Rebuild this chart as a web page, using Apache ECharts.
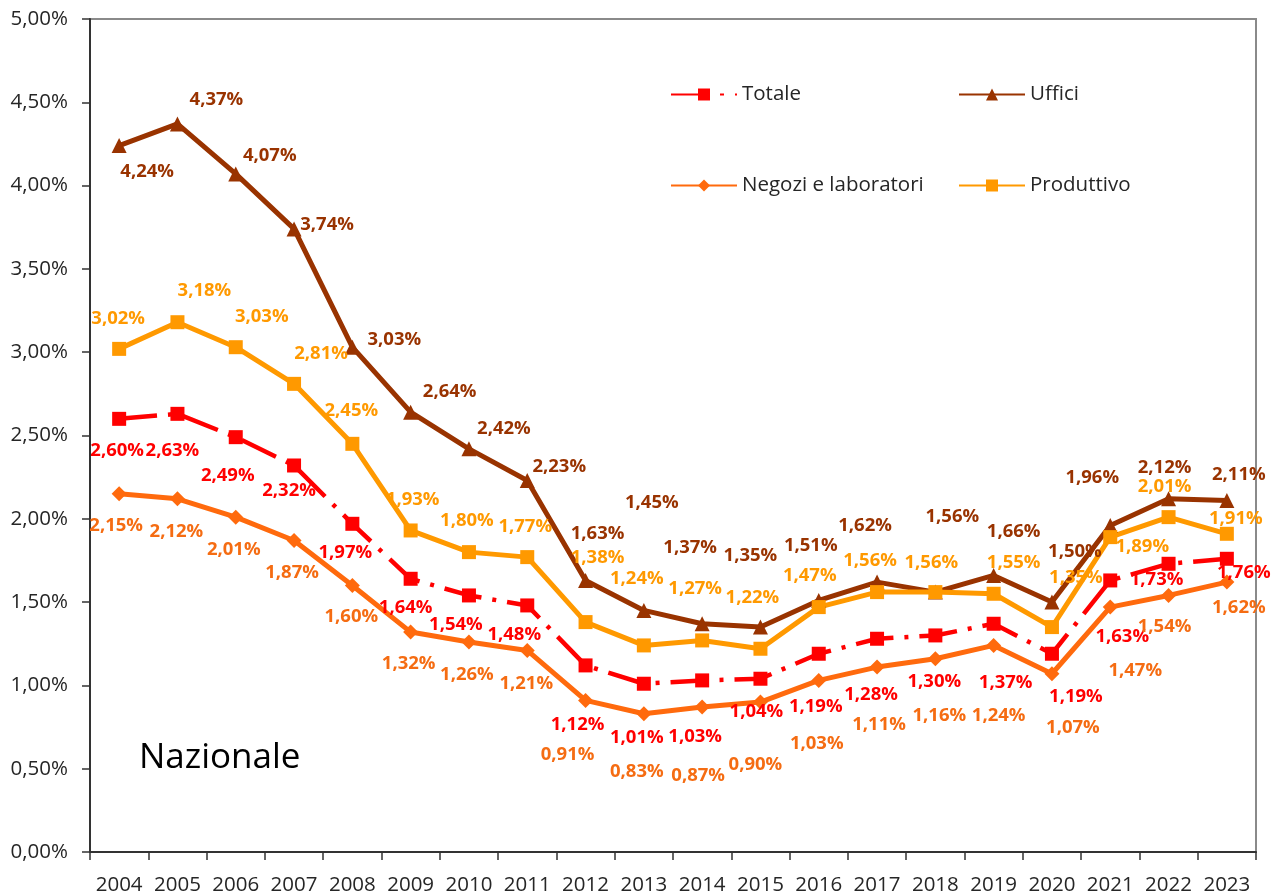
<!DOCTYPE html>
<html>
<head>
<meta charset="utf-8">
<script src="https://cdn.jsdelivr.net/npm/echarts@6/dist/echarts.min.js"></script>
<style>
  html, body { margin: 0; padding: 0; background: #fff; }
  #chart { width: 1271px; height: 893px; }
</style>
</head>
<body>
<div id="chart"></div>
<script>
const YEARS = ["2004","2005","2006","2007","2008","2009","2010","2011","2012","2013",
               "2014","2015","2016","2017","2018","2019","2020","2021","2022","2023"];

const TOTALE = [2.60, 2.63, 2.49, 2.32, 1.97, 1.64, 1.54, 1.48, 1.12, 1.01,
                1.03, 1.04, 1.19, 1.28, 1.30, 1.37, 1.19, 1.63, 1.73, 1.76];
const UFFICI = [4.24, 4.37, 4.07, 3.74, 3.03, 2.64, 2.42, 2.23, 1.63, 1.45,
                1.37, 1.35, 1.51, 1.62, 1.56, 1.66, 1.50, 1.96, 2.12, 2.11];
const NEGOZI = [2.15, 2.12, 2.01, 1.87, 1.60, 1.32, 1.26, 1.21, 0.91, 0.83,
                0.87, 0.90, 1.03, 1.11, 1.16, 1.24, 1.07, 1.47, 1.54, 1.62];
const PRODUTTIVO = [3.02, 3.18, 3.03, 2.81, 2.45, 1.93, 1.80, 1.77, 1.38, 1.24,
                    1.27, 1.22, 1.47, 1.56, 1.56, 1.55, 1.35, 1.89, 2.01, 1.91];

// label placement (pixel offsets from each point, like Excel's hand-moved labels)
const OFF_TOTALE = [[-2,32],[-5,37],[-8,39],[-5,25],[-7,29],[-5,29],[-13,29],[-13,29],[-8,59],[-7,54],
                    [-7,56],[-4,33],[-3,53],[-6,56],[-1,46],[12,59],[24,43],[12,56],[-12,16],[17,14]];
const OFF_UFFICI = [[28,26],[39,-24],[34,-18],[33,-4],[42,-7],[39,-20],[35,-20],[32,-14],[12,-47],[8,-108],
                    [-12,-76],[-10,-71],[-8,-55],[-12,-56],[17,-75],[20,-44],[23,-50],[-18,-48],[-4,-31],[12,-26]];
const OFF_NEGOZI = [[-3,32],[-1,33],[-2,33],[-2,32],[-1,31],[-2,32],[-2,33],[-1,33],[-18,54],[-7,58],
                    [-4,69],[-5,63],[-2,63],[2,58],[4,57],[5,70],[21,54],[25,64],[-4,31],[12,26]];
const OFF_PROD = [[-1,-30],[27,-31],[26,-30],[27,-30],[-1,-33],[2,-31],[-2,-31],[-2,-30],[12,-64],[-7,-67],
                  [-7,-52],[-8,-51],[-9,-31],[-7,-31],[-4,-29],[20,-31],[24,-49],[32,10],[-4,-30],[9,-15]];

const FONT = "'Open Sans', 'Noto Sans', sans-serif";
const pct = (v) => v.toFixed(2).replace(".", ",") + "%";

function mkSeries(name, values, offsets, color, labelColor, symbol, symbolSize, lineStyle) {
  return {
    name,
    type: "line",
    data: values.map((v, i) => ({ value: v, label: { offset: offsets[i] } })),
    symbol,
    symbolSize,
    itemStyle: { color },
    lineStyle: Object.assign({ color, width: 5 }, lineStyle || {}),
    label: {
      show: true,
      position: "inside",
      align: "center",
      verticalAlign: "middle",
      color: labelColor,
      fontFamily: FONT,
      fontWeight: "bold",
      fontSize: 18.5,
      textBorderWidth: 0,
      formatter: (p) => pct(p.value)
    },
    emphasis: { disabled: true },
    animation: false
  };
}

function legendAt(name, left, top) {
  return {
    data: [name],
    left, top,
    itemWidth: 66,
    itemHeight: 15,
    itemGap: 8,
    textStyle: { fontFamily: FONT, fontSize: 20.5, color: "#262626" }
  };
}

const chart = echarts.init(document.getElementById("chart"));
chart.setOption({
  backgroundColor: "#ffffff",
  animation: false,
  title: {
    text: "Nazionale",
    left: 134,
    top: 736,
    textStyle: { fontFamily: FONT, fontSize: 35, fontWeight: "normal", color: "#000" }
  },
  legend: [
    legendAt("Totale", 665, 79),
    legendAt("Uffici", 953, 79),
    legendAt("Negozi e laboratori", 665, 170),
    legendAt("Produttivo", 953, 170)
  ],
  grid: {
    left: 90, right: 15, top: 19, bottom: 41,
    outerBoundsMode: "none",
    containLabel: false,
    show: true, borderColor: "#8a8a8a", borderWidth: 2
  },
  xAxis: {
    type: "category",
    data: YEARS,
    boundaryGap: true,
    axisLine: { lineStyle: { color: "#333", width: 2 } },
    axisTick: { show: true, interval: 0, length: 8, lineStyle: { color: "#333", width: 1.5 } },
    axisLabel: { interval: 0, fontFamily: FONT, fontSize: 20.5, color: "#262626", margin: 23 }
  },
  yAxis: {
    type: "value",
    min: 0, max: 5, interval: 0.5,
    axisLine: { show: true, lineStyle: { color: "#333", width: 2 } },
    axisTick: { show: true, length: 8, lineStyle: { color: "#333", width: 1.5 } },
    splitLine: { show: false },
    axisLabel: { fontFamily: FONT, fontSize: 20.5, color: "#262626", margin: 22,
                 formatter: (v) => pct(v) }
  },
  series: [
    mkSeries("Totale", TOTALE, OFF_TOTALE, "#ff0000", "#ff0000", "rect", 14,
             { width: 4.5, type: [38, 11, 4, 11] }),
    mkSeries("Uffici", UFFICI, OFF_UFFICI, "#993300", "#993300", "triangle", 15),
    mkSeries("Negozi e laboratori", NEGOZI, OFF_NEGOZI, "#ff6a0d", "#f56c12", "diamond", 15),
    mkSeries("Produttivo", PRODUTTIVO, OFF_PROD, "#ff9900", "#ff9900", "rect", 14)
  ]
});
</script>
</body>
</html>
